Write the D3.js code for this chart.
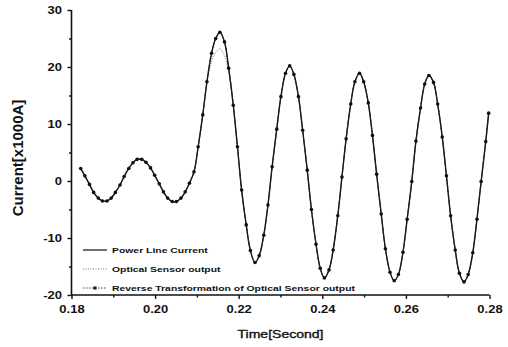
<!DOCTYPE html>
<html><head><meta charset="utf-8">
<script src="https://cdn.jsdelivr.net/npm/d3@7/dist/d3.min.js"></script>
<style>
html,body{margin:0;padding:0;background:#fff;}
svg{display:block;}
text{font-family:"Liberation Sans",Arial,sans-serif;fill:#111;}
</style></head><body>
<svg id="c" width="508" height="347"></svg>
<script>
const time = [0.1822,0.1832,0.1843,0.1853,0.1864,0.1874,0.1885,0.1895,0.1905,0.1916,
0.1926,0.1937,0.1947,0.1957,0.1968,0.1978,0.1989,0.1999,0.2010,0.2020,
0.2030,0.2041,0.2051,0.2062,0.2072,0.2082,0.2093,0.2103,0.2114,0.2124,
0.2135,0.2145,0.2155,0.2166,0.2176,0.2187,0.2197,0.2207,0.2218,0.2228,
0.2239,0.2249,0.2260,0.2270,0.2280,0.2291,0.2301,0.2312,0.2322,0.2332,
0.2343,0.2353,0.2364,0.2374,0.2385,0.2395,0.2405,0.2416,0.2426,0.2437,
0.2447,0.2457,0.2468,0.2478,0.2489,0.2499,0.2510,0.2520,0.2530,0.2541,
0.2551,0.2562,0.2572,0.2582,0.2593,0.2603,0.2614,0.2624,0.2635,0.2645,
0.2655,0.2666,0.2676,0.2687,0.2697,0.2707,0.2718,0.2728,0.2739,0.2749,
0.2760,0.2770,0.2780,0.2791,0.2798];
const powerLineCurrent = [2.2,0.9,-0.6,-2.0,-3.0,-3.5,-3.5,-3.0,-2.0,-0.7,
0.8,2.2,3.2,3.8,3.8,3.3,2.3,1.0,-0.5,-1.9,
-3.0,-3.6,-3.6,-3.0,-1.9,-0.4,1.6,6.0,11.6,17.4,
22.4,25.0,26.1,24.4,19.8,13.3,6.0,-1.6,-7.7,-12.2,
-14.3,-13.1,-9.5,-4.2,2.5,9.1,14.8,18.9,20.2,18.7,
14.8,8.9,1.9,-5.0,-11.1,-15.3,-17.0,-15.6,-12.1,-6.1,
0.7,7.4,13.5,17.4,18.9,17.4,13.7,8.0,1.2,-5.8,
-11.9,-16.0,-17.5,-16.4,-12.5,-6.7,-0.1,7.0,12.8,17.0,
18.5,17.3,13.5,7.7,0.9,-6.1,-12.1,-16.2,-17.7,-16.4,
-12.6,-6.7,-0.1,6.9,11.9];
const opticalSensorOutput = [2.2,0.9,-0.6,-2.0,-3.0,-3.5,-3.5,-3.0,-2.0,-0.7,
0.8,2.2,3.2,3.8,3.8,3.3,2.3,1.0,-0.5,-1.9,
-3.0,-3.6,-3.6,-3.0,-1.9,-0.4,1.6,6.0,11.6,17.2,
21.0,22.6,23.2,22.0,19.3,13.3,6.0,-1.6,-7.7,-12.2,
-14.3,-13.1,-9.5,-4.2,2.5,9.1,14.8,18.9,20.2,18.7,
14.8,8.9,1.9,-5.0,-11.1,-15.3,-17.0,-15.6,-12.1,-6.1,
0.7,7.4,13.5,17.4,18.9,17.4,13.7,8.0,1.2,-5.8,
-11.9,-16.0,-17.5,-16.4,-12.5,-6.7,-0.1,7.0,12.8,17.0,
18.5,17.3,13.5,7.7,0.9,-6.1,-12.1,-16.2,-17.7,-16.4,
-12.6,-6.7,-0.1,6.9,11.9];
const reverseTransformation = [2.2,0.9,-0.6,-2.0,-3.0,-3.5,-3.5,-3.0,-2.0,-0.7,
0.8,2.2,3.2,3.8,3.8,3.3,2.3,1.0,-0.5,-1.9,
-3.0,-3.6,-3.6,-3.0,-1.9,-0.4,1.6,6.0,11.6,17.4,
22.4,25.0,26.1,24.4,19.8,13.3,6.0,-1.6,-7.7,-12.2,
-14.3,-13.1,-9.5,-4.2,2.5,9.1,14.8,18.9,20.2,18.7,
14.8,8.9,1.9,-5.0,-11.1,-15.3,-17.0,-15.6,-12.1,-6.1,
0.7,7.4,13.5,17.4,18.9,17.4,13.7,8.0,1.2,-5.8,
-11.9,-16.0,-17.5,-16.4,-12.5,-6.7,-0.1,7.0,12.8,17.0,
18.5,17.3,13.5,7.7,0.9,-6.1,-12.1,-16.2,-17.7,-16.4,
-12.6,-6.7,-0.1,6.9,11.9];
const xTicks = [0.18,0.20,0.22,0.24,0.26,0.28];
const xMinorTicks = [0.19,0.21,0.23,0.25,0.27];
const yTicks = [-20,-10,0,10,20,30];
const yMinorTicks = [-15,-5,5,15,25];
const legendLabels = ["Power Line Current","Optical Sensor output","Reverse Transformation of Optical Sensor output"];
const xTitle = "Time[Second]";
const yTitle = "Current[x1000A]";

const SX = 1.3; // horizontal stretch of the scanned text
const svg = d3.select("#c");
const x = d3.scaleLinear().domain([0.18,0.28]).range([71.5,489.5]);
const y = d3.scaleLinear().domain([-20,30]).range([295,10]);

// axes
const xAxis = svg.append("g").attr("transform","translate(0,295)")
  .call(d3.axisBottom(x).tickValues(xTicks).tickFormat(d=>d.toFixed(2)).tickSize(4).tickPadding(3));
const xMinor = svg.append("g").attr("transform","translate(0,295)")
  .call(d3.axisBottom(x).tickValues(xMinorTicks).tickFormat("").tickSize(2.5));
const yAxis = svg.append("g").attr("transform","translate(71.5,0)")
  .call(d3.axisLeft(y).tickValues(yTicks).tickFormat(d=>String(d)).tickSize(4));
const yMinor = svg.append("g").attr("transform","translate(71.5,0)")
  .call(d3.axisLeft(y).tickValues(yMinorTicks).tickFormat("").tickSize(2.5));
[xAxis,xMinor,yAxis,yMinor].forEach(g=>{
  g.select(".domain").attr("stroke","#111").attr("stroke-width",1.6);
  g.selectAll(".tick line").attr("stroke","#111").attr("stroke-width",1.4);
});
xMinor.select(".domain").remove(); yMinor.select(".domain").remove();
xAxis.select(".domain").attr("d","M71.5,0H489.5");
yAxis.select(".domain").attr("d","M0,295V10");
xAxis.selectAll(".tick text").attr("y",11).attr("dy","0.71em")
  .attr("font-size","10px").attr("font-weight","bold")
  .attr("transform",`scale(${SX},1)`).style("fill","#111");
yAxis.selectAll(".tick text").attr("x",-9.5/SX).attr("dy","0.35em")
  .attr("font-size","10px").attr("font-weight","bold")
  .attr("transform",`scale(${SX},1)`).style("fill","#111");

// series
const pts = (vals)=>time.map((t,i)=>[t,vals[i]]);
const line = d3.line().x(d=>x(d[0])).y(d=>y(d[1])).curve(d3.curveCatmullRom.alpha(0.5));
svg.append("path").datum(pts(opticalSensorOutput)).attr("d",line)
  .attr("fill","none").attr("stroke","#555").attr("stroke-width",0.9).attr("stroke-dasharray","1,1.5");
svg.append("path").datum(pts(powerLineCurrent)).attr("d",line)
  .attr("fill","none").attr("stroke","#111").attr("stroke-width",1.4);
svg.append("path").datum(pts(reverseTransformation)).attr("d",line)
  .attr("fill","none").attr("stroke","#222").attr("stroke-width",1).attr("stroke-dasharray","2,1.5");
svg.append("g").selectAll("circle").data(pts(reverseTransformation)).join("circle")
  .attr("cx",d=>x(d[0])).attr("cy",d=>y(d[1])).attr("r",1.8).attr("fill","#111");

// legend
const lg = svg.append("g");
const rowsY = [250,269,288];
legendLabels.forEach((lab,i)=>{
  const yy = rowsY[i];
  const l = lg.append("line").attr("x1",83).attr("x2",107).attr("y1",yy).attr("y2",yy);
  if(i===0) l.attr("stroke","#111").attr("stroke-width",1.2);
  if(i===1) l.attr("stroke","#666").attr("stroke-width",0.9).attr("stroke-dasharray","1,1.5");
  if(i===2){ l.attr("stroke","#444").attr("stroke-width",1).attr("stroke-dasharray","1.5,1.5");
    lg.append("rect").attr("x",93.5).attr("y",yy-1.5).attr("width",3).attr("height",3).attr("fill","#111"); }
  lg.append("text").attr("transform",`translate(112,${yy+3}) scale(${SX},1)`)
    .attr("font-size","8px").attr("font-weight","bold").text(lab);
});

// titles
svg.append("text").attr("transform",`translate(280.5,338) scale(${SX},1)`)
  .attr("text-anchor","middle").attr("font-size","10.8px")
  .attr("stroke","#111").attr("stroke-width",0.35).text(xTitle);
svg.append("text").attr("transform",`translate(23,158) rotate(-90)`)
  .attr("text-anchor","middle").attr("font-size","15px").attr("font-weight","bold").text(yTitle);
</script>
</body></html>
